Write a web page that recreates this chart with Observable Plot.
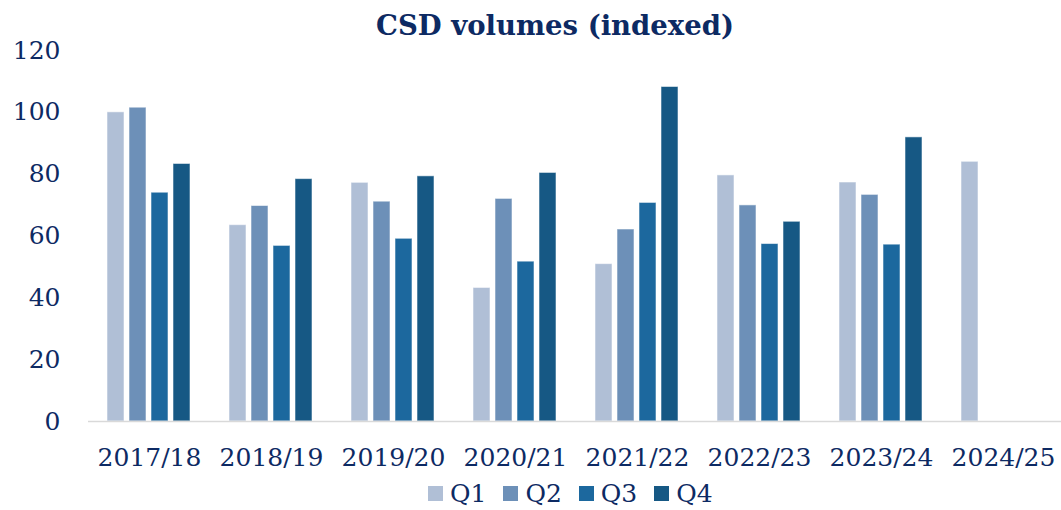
<!DOCTYPE html>
<html>
<head>
<meta charset="utf-8">
<script src="https://cdn.jsdelivr.net/npm/d3@7"></script>
<script src="https://cdn.jsdelivr.net/npm/@observablehq/plot@0.6"></script>
<style>
  html, body { margin: 0; padding: 0; background: #ffffff; overflow: hidden; }
  #wrap { position: relative; width: 1061px; height: 510px; overflow: hidden; background: #ffffff; }
  #title { position: absolute; left: 49px; width: 1012px; top: 12px; text-align: center;
           font-family: "DejaVu Serif", serif; font-weight: bold; font-size: 27.5px; line-height: 1;
           color: #0d2a63; white-space: nowrap; }
  #chart { position: absolute; left: 0; top: 40px; }
  #legend { position: absolute; left: 428px; top: 477px; }
  .leg-swatch { margin-right: 17px !important; }
  .leg-swatch > svg { margin-right: 7px !important; }
</style>
</head>
<body>
<div id="wrap">
  <div id="title">CSD volumes (indexed)</div>
  <div id="chart"></div>
  <div id="legend"></div>
</div>
<script>
const years = ["2017/18", "2018/19", "2019/20", "2020/21", "2021/22", "2022/23", "2023/24", "2024/25"];
const quarters = ["Q1", "Q2", "Q3", "Q4"];
const q1 = [100.0, 63.5, 77.2, 43.2, 50.9, 79.6, 77.3, 84.0];
const q2 = [101.5, 69.7, 71.1, 72.0, 62.1, 69.9, 73.3, null];
const q3 = [74.0, 56.8, 59.1, 51.7, 70.7, 57.4, 57.2, null];
const q4 = [83.3, 78.4, 79.3, 80.4, 108.2, 64.6, 91.9, null];
const yTicks = [0, 20, 40, 60, 80, 100, 120];
const colors = ["#b0bfd6", "#6d90b8", "#1c689e", "#165884"];

const series = [q1, q2, q3, q4];
const data = [];
years.forEach((year, i) => {
  quarters.forEach((q, j) => {
    const v = series[j][i];
    if (v != null) data.push({year, quarter: q, value: v});
  });
});

const textColor = "#0d2a63";

const chart = Plot.plot({
  width: 1066,
  height: 436,
  marginLeft: 85,
  marginRight: 0,
  marginTop: 10,
  marginBottom: 55,
  style: {fontFamily: "DejaVu Serif", fontSize: "25px", color: textColor, background: "transparent", maxWidth: "none", overflow: "visible"},
  fx: {domain: years, padding: 0, label: null, axis: "bottom", tickSize: 0, tickPadding: 27},
  x: {domain: quarters, paddingInner: 0.206, paddingOuter: 0.852, axis: null},
  y: {domain: [0, 120], ticks: yTicks, tickSize: 0, tickPadding: 28, label: null},
  color: {domain: quarters, range: colors},
  marks: [
    Plot.barY(data, {fx: "year", x: "quarter", y: "value", fill: "quarter", stroke: "#ffffff", strokeOpacity: 0.55, strokeWidth: 1}),
    Plot.ruleY([0], {stroke: "#d9d9d9", strokeWidth: 1.7})
  ]
});
document.getElementById("chart").appendChild(chart);

const legend = Plot.legend({
  color: {domain: quarters, range: colors},
  legend: "swatches",
  className: "leg",
  swatchSize: 15,
  style: {fontFamily: "DejaVu Serif", fontSize: "25px", color: textColor, margin: "0"}
});
document.getElementById("legend").appendChild(legend);
</script>
</body>
</html>
